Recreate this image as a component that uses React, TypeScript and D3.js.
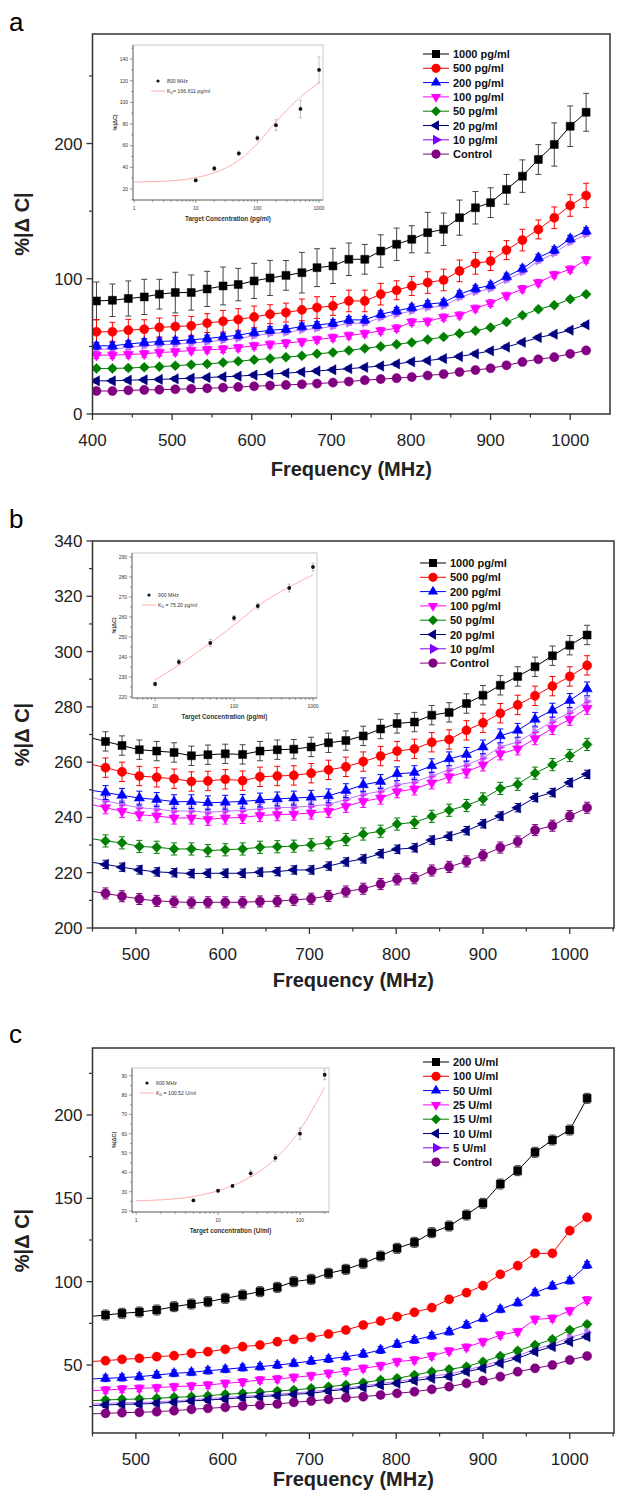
import React from "react";
import * as d3 from "d3";

const FONT = "'Liberation Sans', Arial, Helvetica, sans-serif";

// frequencies (MHz)
const freqA = [405, 425, 445, 465, 484, 504, 524, 544, 564, 583, 603, 623, 643, 663, 682, 702, 722, 742, 762, 782, 801, 821, 841, 861, 881, 900, 920, 940, 960, 980, 1000, 1020];
const freqBC = [445, 465, 484, 504, 524, 544, 564, 583, 603, 623, 643, 663, 682, 702, 722, 742, 762, 782, 801, 821, 841, 861, 881, 900, 920, 940, 960, 980, 1000, 1020];

const colors = ["#000000", "#ff0000", "#0000ff", "#ff00ff", "#008000", "#000080", "#8000ff", "#800080"];
const shapes = ["square", "circle", "up", "down", "diamond", "left", "right", "circle"];
const labelsPg = ["1000 pg/ml", "500 pg/ml", "200 pg/ml", "100 pg/ml", "50 pg/ml", "20 pg/ml", "10 pg/ml", "Control"];
const labelsU = ["200 U/ml", "100 U/ml", "50 U/ml", "25 U/ml", "15 U/ml", "10 U/ml", "5 U/ml", "Control"];

// panel a  (%|ΔC|)
const a1000 = [83.6, 84.1, 85.4, 86.6, 88.6, 89.8, 89.8, 92.5, 94.7, 95.7, 98.4, 100.6, 102.5, 104.5, 108.2, 109.5, 114.4, 114.4, 120.5, 125.5, 129.2, 134.1, 136.6, 145.2, 152.5, 156.3, 166.1, 175.9, 188.2, 199.3, 212.8, 223.1];
const a500 = [60.8, 60.8, 62.0, 62.7, 64.0, 64.7, 65.2, 67.2, 68.6, 69.9, 71.8, 73.8, 75.0, 77.0, 78.7, 79.9, 83.6, 83.6, 88.6, 91.5, 94.7, 97.2, 99.1, 105.8, 111.4, 113.1, 121.2, 128.6, 136.5, 145.1, 154.2, 161.6];
const a200 = [50.4, 50.4, 51.7, 52.9, 53.6, 54.1, 54.9, 55.8, 57.1, 58.3, 60.3, 62.0, 62.7, 64.7, 65.7, 67.2, 69.6, 69.6, 73.8, 76.3, 78.7, 81.2, 82.4, 88.6, 92.7, 95.2, 101.6, 107.5, 115.6, 121.2, 129.6, 135.3];
const a100 = [43.5, 43.5, 44, 44.5, 45.5, 46, 47, 47.5, 48, 49, 50.5, 51.5, 52.5, 53.5, 55, 56.5, 58, 59.5, 61.5, 63.5, 68, 68.5, 71.5, 73, 78, 82, 87.5, 92.5, 97, 103, 107, 114];
const a50 = [33.7, 33.7, 34, 34.5, 35, 35.7, 36.5, 37, 38, 39, 40.1, 41, 42, 43, 44.5, 45.5, 47, 48.5, 50, 51.5, 52.9, 55, 57, 59.5, 61.5, 64, 68, 73, 77.5, 80.5, 84.9, 88.6];
const a20 = [24.5, 24.5, 25, 25.3, 25.6, 26, 26.5, 27, 27.5, 28, 28.8, 29.5, 30.2, 31, 31.8, 32.7, 33.5, 34.5, 35.5, 37, 38.6, 39.5, 41, 42.5, 44.5, 46.7, 49.5, 53, 56.5, 59, 62, 66];
const a10 = [48, 48, 49.2, 50.4, 51.1, 51.6, 52.4, 53.3, 54.6, 55.8, 57.8, 59.5, 60.2, 62.2, 63.2, 64.7, 67.1, 67.1, 71.3, 73.8, 76.2, 78.7, 79.9, 86.1, 90.2, 92.7, 99.1, 105, 113.1, 118.7, 127.1, 132.8];
const aCtrl = [17, 17, 17.5, 17.8, 18, 18.3, 18.7, 19, 19.5, 20, 20.5, 21, 21.5, 22, 22.5, 23.2, 24, 25, 25.8, 26.5, 27.3, 28.5, 29.5, 31, 32.5, 33.8, 36, 38.5, 40.5, 42, 44.5, 47];
const a1000Err = [14, 12, 13, 13, 11, 15, 13, 13, 14, 12, 13, 13, 11, 15, 14, 13, 12, 11, 12, 12, 10, 15, 12, 13, 12, 11, 11, 12, 11, 16, 15, 14];
const a500Err = [9, 7, 8, 7, 7, 8, 7, 7, 8, 8, 8, 7, 7, 8, 8, 7, 8, 8, 8, 7, 7, 8, 8, 8, 8, 7, 7, 8, 7, 8, 8, 9];
const aErr = [a1000Err, a500Err, 2.5, 2.5, 1.5, 1.5, 1.5, 1.5];

// panel b
const b1000 = [269, 267.5, 266, 264.5, 264, 263.5, 262.3, 262.7, 263, 262.8, 264, 264.5, 264.7, 265.5, 267, 267.8, 269.5, 272, 274, 274.5, 277, 278, 281.2, 284.2, 287.8, 291, 294.5, 298.5, 302.3, 306];
const b500 = [259.5, 258, 256.5, 255, 254.5, 254, 253, 253.2, 253.8, 253.3, 254.7, 255, 255.2, 256, 257.2, 258.3, 260.2, 262.2, 264, 264.8, 267.2, 268.2, 271.5, 274.2, 277.7, 280.7, 284, 287.5, 291, 295];
const b200 = [250, 249, 248, 247, 246.5, 245.7, 245.7, 245.3, 245.5, 245.8, 246.3, 246.7, 247, 247.3, 247.8, 249.7, 251.8, 253, 255.8, 256.2, 258.7, 261.2, 262.8, 265.5, 269.5, 271.5, 275.5, 278.8, 282.3, 286.5];
const b100 = [245, 243.5, 242.2, 241, 240.5, 239.8, 239.8, 239.3, 239.8, 240, 240.7, 241, 241.2, 241.6, 242.2, 244, 245.8, 247, 249.3, 250.3, 252.5, 254.7, 256.5, 259, 263, 264.8, 268.5, 272.2, 275.5, 279.5];
const b50 = [232.5, 231.5, 230.8, 229.5, 229.2, 228.6, 228.6, 228, 228.3, 228.6, 229.2, 229.4, 229.6, 230.1, 230.8, 232, 234, 235, 237.6, 238.2, 240.4, 242.6, 244.3, 246.7, 250.5, 252, 256, 259.1, 262.4, 266.4];
const b20 = [224, 223, 222, 221, 220.3, 220, 219.7, 219.8, 219.8, 219.8, 220.2, 220.4, 221, 221, 222.4, 223.9, 225, 226.9, 228.5, 229, 231.8, 233.2, 235.2, 237.7, 240.5, 243.5, 247.2, 249, 252.6, 255.6];
const b10 = [247.5, 246, 244.7, 243.5, 243, 242.3, 242.3, 241.8, 242.3, 242.5, 243.2, 243.5, 243.7, 244.1, 244.7, 246.5, 248.3, 249.5, 251.8, 252.8, 255, 257.2, 259, 261.5, 265.5, 267.3, 271, 274.7, 278, 282];
const bCtrl = [213.5, 212.5, 211.5, 210.5, 209.8, 209.5, 209.2, 209.3, 209.3, 209.3, 209.6, 209.7, 210.2, 210.6, 211.6, 213.2, 214.2, 215.9, 217.6, 218, 220.8, 222.1, 224.1, 226.3, 229.1, 231.3, 235.4, 237, 240.5, 243.5];
const bErr = [3.5, 3.5, 2.5, 2.2, 2.2, 1.5, 1.5, 2];

// panel c
const c200 = [79, 80, 81, 81.8, 83, 85, 86.6, 88, 90, 92, 94, 96.6, 100, 101.4, 105, 107.4, 111, 115.4, 120, 123.6, 129.4, 133.4, 140, 147, 158.6, 166.6, 177.6, 185, 191, 210];
const c100 = [52, 52.6, 53.4, 54, 55, 55.6, 57, 58, 59.4, 61, 62, 64, 65.4, 66.6, 68.6, 71, 74, 76.4, 79, 81.6, 84.4, 89.4, 93.4, 97.6, 104.4, 109.6, 117, 117, 130.6, 138.6];
const c50 = [41.5, 42, 42.4, 43, 44, 45, 45.6, 46.6, 47.4, 48.4, 49, 50, 51, 52.4, 53.6, 55, 56.6, 59, 62.5, 65, 67.5, 70, 74, 78, 83.4, 87.4, 93.4, 97.4, 100.6, 110];
const c25 = [34.5, 35, 35.6, 36, 36.4, 37, 37.4, 38, 39, 39.8, 41, 41.6, 42.6, 43.6, 45, 46.4, 48, 49.6, 52, 53, 55.4, 58.4, 60.6, 64, 68, 70, 77.4, 78, 82.6, 89];
const c15 = [28.5, 29, 29.4, 29.6, 30, 30.6, 31, 31.6, 32.4, 33, 33.6, 34.4, 35, 36, 37, 38, 39.4, 41, 42, 44, 46, 47.4, 49, 52, 55.4, 58.6, 62, 65.4, 71, 74.4];
const c10 = [25.6, 26, 26.4, 26.6, 27, 27.6, 28.4, 29, 29.6, 30.4, 31, 31.6, 32.4, 33, 34.4, 35.4, 36.6, 38, 39, 40.6, 42, 43, 46, 48, 51, 54, 58, 61, 64, 67];
const c5 = [26.5, 27, 27.3, 27.5, 27.9, 28.5, 29.2, 29.8, 30.5, 31.2, 31.8, 32.5, 33.2, 34, 35.2, 36.2, 37.5, 39, 40, 41.8, 43.5, 44.5, 47, 49.5, 52.5, 55.5, 59.5, 62.5, 66.5, 69.5];
const cCtrl = [20.6, 21, 21.4, 21.6, 22, 22.6, 23.4, 24, 24.6, 25.4, 26, 26.6, 27.6, 28.4, 29.4, 30.4, 31, 32, 33, 34, 35.4, 37, 39, 40.6, 43, 46, 48, 50, 53, 55.4];
const cErr = [3, 1.5, 2, 2, 1.5, 1.5, 1.5, 1.5];

// insets: binding curves
const insetAConc = [10, 20, 50, 100, 200, 500, 1000];
const insetAVal = [28, 39, 53, 67, 79, 94, 130];
const insetAErr = [1.5, 2, 2, 2, 5, 8, 12];
const insetAFit = [[1, 26.5], [2, 26.8], [5, 28], [10, 30.5], [20, 35], [50, 46.5], [100, 62], [200, 82], [500, 105], [1000, 118]];

const insetBConc = [10, 20, 50, 100, 200, 500, 1000];
const insetBVal = [226.5, 237.5, 247, 259.5, 265.5, 274.5, 285];
const insetBErr = [1, 1.3, 1.8, 1.3, 1.5, 2, 2];
const insetBFit = [[10, 228.5], [20, 236], [50, 247], [100, 256], [200, 265.5], [500, 275], [1000, 281]];

const insetCConc = [5, 10, 15, 25, 50, 100, 200];
const insetCVal = [25.5, 30.5, 33, 39.5, 47.5, 60, 90.5];
const insetCErr = [0.6, 0.6, 0.6, 1.6, 1.8, 3, 2.5];
const insetCFit = [[1, 25.3], [2, 25.8], [5, 27.5], [10, 30.5], [20, 35.5], [50, 47], [100, 62], [200, 84]];

function markerPath(shape: string, scale = 1) {
  if (shape === "square") return { d: d3.symbol(d3.symbolSquare, 64 * scale)()!, rot: 0 };
  if (shape === "circle") return { d: d3.symbol(d3.symbolCircle, 66 * scale)()!, rot: 0 };
  if (shape === "diamond") return { d: d3.symbol(d3.symbolSquare, 50 * scale)()!, rot: 45 };
  const tri = d3.symbol(d3.symbolTriangle, 46 * scale)()!;
  const rot = shape === "up" ? 0 : shape === "down" ? 180 : shape === "left" ? -90 : 90;
  return { d: tri, rot };
}

// the 7th series sits underneath the others, as in the original figure
const drawOrder = [6, 0, 1, 2, 3, 4, 5, 7];

function MainPanel(p: any) {
  const x = d3.scaleLinear().domain(p.xDomain).range([p.left, p.right]);
  const y = d3.scaleLinear().domain(p.yDomain).range([p.bottom, p.top]);
  const clipId = "clip-" + p.letter;
  const line = d3.line<number>().x((_, i) => x(p.freqs[i])).y((d) => y(d));
  const xMajor = d3.range(p.xTickStart, p.xDomain[1], 100);
  const xMinor = d3.range(p.xTickStart - 50, p.xDomain[1], 100).filter((v) => v >= p.xDomain[0]);
  const cap = 3;
  return (
    <g>
      <defs>
        <clipPath id={clipId}>
          <rect x={p.left} y={p.top} width={p.right - p.left} height={p.bottom - p.top} />
        </clipPath>
      </defs>
      <text x={9} y={p.letterY} fontSize={26} fontFamily={FONT}>{p.letter}</text>
      <g clipPath={`url(#${clipId})`}>
        {drawOrder.map((si) => {
          const vals: number[] = p.series[si];
          const err = p.errs[si];
          const col = colors[si];
          const hidden = si === 6;
          const m = markerPath(shapes[si], hidden ? 0.6 : 1);
          return (
            <g key={si} opacity={hidden ? 0.55 : 1}>
              <path d={line(vals)!} fill="none" stroke={col} strokeWidth={1} />
              {vals.map((v, i) => {
                const e = Array.isArray(err) ? err[i] : err;
                const cx = x(p.freqs[i]);
                const ecol = si === 0 ? "#444" : col;
                return (
                  <g key={i} stroke={ecol} strokeWidth={1}>
                    <line x1={cx} x2={cx} y1={y(v - e)} y2={y(v + e)} />
                    <line x1={cx - cap} x2={cx + cap} y1={y(v - e)} y2={y(v - e)} />
                    <line x1={cx - cap} x2={cx + cap} y1={y(v + e)} y2={y(v + e)} />
                  </g>
                );
              })}
              {vals.map((v, i) => (
                <path key={"m" + i} d={m.d} fill={col} stroke={col} strokeWidth={0.5}
                  transform={`translate(${x(p.freqs[i])},${y(v)}) rotate(${m.rot})`} />
              ))}
            </g>
          );
        })}
      </g>
      <rect x={p.left} y={p.top} width={p.right - p.left} height={p.bottom - p.top} fill="none" stroke="#333" strokeWidth={1.5} />
      {xMajor.map((v) => (
        <g key={"xt" + v}>
          <line x1={x(v)} x2={x(v)} y1={p.bottom} y2={p.bottom + 6} stroke="#333" strokeWidth={1.3} />
          <text x={x(v)} y={p.bottom + 32} textAnchor="middle" fontSize={17} fontFamily={FONT} fill="#222">{v}</text>
        </g>
      ))}
      {xMinor.map((v) => (
        <line key={"xm" + v} x1={x(v)} x2={x(v)} y1={p.bottom} y2={p.bottom + 3.5} stroke="#333" strokeWidth={1.2} />
      ))}
      {p.yTicks.map((v: number) => (
        <g key={"yt" + v}>
          <line x1={p.left - 6} x2={p.left} y1={y(v)} y2={y(v)} stroke="#333" strokeWidth={1.3} />
          <text x={p.left - 10} y={y(v) + 6} textAnchor="end" fontSize={17} fontFamily={FONT} fill="#222">{v}</text>
        </g>
      ))}
      {p.yMinor.map((v: number) => (
        <line key={"ym" + v} x1={p.left - 3.5} x2={p.left} y1={y(v)} y2={y(v)} stroke="#333" strokeWidth={1.2} />
      ))}
      <text x={(p.left + p.right) / 2} y={p.bottom + p.titleOffset} textAnchor="middle" fontSize={20} fontWeight="bold" fontFamily={FONT} fill="#222">Frequency (MHz)</text>
      <text transform={`translate(29,${(p.top + p.bottom) / 2}) rotate(-90)`} textAnchor="middle" fontSize={20} fontWeight="bold" fontFamily={FONT} fill="#222">%|Δ C|</text>
      {p.labels.map((lab: string, i: number) => {
        const ly = p.legendY + i * 14.3;
        const m = markerPath(shapes[i]);
        return (
          <g key={"lg" + i}>
            <line x1={p.legendX} x2={p.legendX + 26} y1={ly} y2={ly} stroke={colors[i]} strokeWidth={1} />
            <path d={m.d} fill={colors[i]} transform={`translate(${p.legendX + 13},${ly}) rotate(${m.rot})`} />
            <text x={p.legendX + 30} y={ly + 4} fontSize={11} fontWeight="bold" fontFamily={FONT} fill="#111">{lab}</text>
          </g>
        );
      })}
    </g>
  );
}

function Inset(p: any) {
  const x = d3.scaleLog().domain(p.xDomain).range([p.left, p.right]);
  const y = d3.scaleLinear().domain(p.yDomain).range([p.bottom, p.top]);
  const logTicks = x.ticks().filter((v) => v >= p.xDomain[0] && v <= p.xDomain[1]);
  const fit = d3.line<number[]>().x((d) => x(d[0])).y((d) => y(d[1])).curve(d3.curveMonotoneX);
  return (
    <g fontFamily={FONT}>
      <rect x={p.left} y={p.top} width={p.right - p.left} height={p.bottom - p.top} fill="#fff" stroke="#bbb" strokeWidth={0.8} />
      <line x1={p.left} x2={p.left} y1={p.top} y2={p.bottom} stroke="#555" strokeWidth={0.8} />
      <line x1={p.left} x2={p.right} y1={p.bottom} y2={p.bottom} stroke="#555" strokeWidth={0.8} />
      {logTicks.map((v: number) => {
        const major = Math.abs(Math.log10(v) - Math.round(Math.log10(v))) < 1e-9;
        return (
          <g key={"x" + v}>
            <line x1={x(v)} x2={x(v)} y1={p.bottom} y2={p.bottom + (major ? 3 : 1.8)} stroke="#555" strokeWidth={0.6} />
            {major && <text x={x(v)} y={p.bottom + 10} textAnchor="middle" fontSize={5} fill="#333">{v}</text>}
          </g>
        );
      })}
      {p.yTicks.map((v: number) => (
        <g key={"y" + v}>
          <line x1={p.left - 3} x2={p.left} y1={y(v)} y2={y(v)} stroke="#555" strokeWidth={0.6} />
          <text x={p.left - 5} y={y(v) + 1.8} textAnchor="end" fontSize={5} fill="#333">{v}</text>
        </g>
      ))}
      {p.yMinor.map((v: number) => (
        <line key={"ym" + v} x1={p.left - 1.8} x2={p.left} y1={y(v)} y2={y(v)} stroke="#555" strokeWidth={0.6} />
      ))}
      <path d={fit(p.fit)!} fill="none" stroke="#ff9a9a" strokeWidth={0.8} />
      {p.conc.map((c: number, i: number) => (
        <g key={"p" + i}>
          <line x1={x(c)} x2={x(c)} y1={y(p.val[i] - p.err[i])} y2={y(p.val[i] + p.err[i])} stroke="#999" strokeWidth={0.6} />
          <line x1={x(c) - 1.5} x2={x(c) + 1.5} y1={y(p.val[i] - p.err[i])} y2={y(p.val[i] - p.err[i])} stroke="#999" strokeWidth={0.6} />
          <line x1={x(c) - 1.5} x2={x(c) + 1.5} y1={y(p.val[i] + p.err[i])} y2={y(p.val[i] + p.err[i])} stroke="#999" strokeWidth={0.6} />
          <circle cx={x(c)} cy={y(p.val[i])} r={1.9} fill="#111" />
        </g>
      ))}
      <circle cx={p.legX + 7} cy={p.legY} r={1.6} fill="#111" />
      <text x={p.legX + 16} y={p.legY + 1.8} fontSize={5.2} fill="#333">{p.freqLabel}</text>
      <line x1={p.legX} x2={p.legX + 14} y1={p.legY + 10} y2={p.legY + 10} stroke="#ff9a9a" strokeWidth={0.8} />
      <text x={p.legX + 16} y={p.legY + 11.8} fontSize={5.2} fill="#333">
        K<tspan fontSize={3.6} dy={1.2}>D</tspan><tspan dy={-1.2}>{p.kdLabel}</tspan>
      </text>
      <text transform={`translate(${p.left - 16},${(p.top + p.bottom) / 2}) rotate(-90)`} textAnchor="middle" fontSize={5.5} fontWeight="bold" fill="#333">%|ΔC|</text>
      <text x={(p.left + p.right) / 2} y={p.bottom + 21} textAnchor="middle" fontSize={6.3} fontWeight="bold" fill="#333">{p.xTitle}</text>
    </g>
  );
}

export default function App() {
  return (
    <div style={{ position: "absolute", left: 0, top: 0 }}>
      <svg width={617} height={1498} style={{ display: "block", background: "#fff" }}>
        <MainPanel letter="a" letterY={31} left={92.5} right={610} top={34} bottom={414} titleOffset={62}
          xDomain={[400, 1050]} xTickStart={400} yDomain={[0, 281]}
          yTicks={[0, 100, 200]} yMinor={[50, 150, 250]}
          freqs={freqA} series={[a1000, a500, a200, a100, a50, a20, a10, aCtrl]} errs={aErr}
          labels={labelsPg} legendX={423} legendY={54} />
        <Inset left={133} right={323} top={45} bottom={200} xDomain={[0.96, 1160]} yDomain={[9.85, 153]}
          yTicks={[20, 40, 60, 80, 100, 120, 140]} yMinor={[10, 30, 50, 70, 90, 110, 130, 150]}
          conc={insetAConc} val={insetAVal} err={insetAErr} fit={insetAFit}
          legX={151} legY={81} freqLabel="800 MHz" kdLabel="= 166.611 pg/ml" xTitle="Target Concentration (pg/ml)" />

        <MainPanel letter="b" letterY={528} left={92.5} right={614} top={541} bottom={928} titleOffset={59}
          xDomain={[450, 1051]} xTickStart={500} yDomain={[200, 340]}
          yTicks={[200, 220, 240, 260, 280, 300, 320, 340]} yMinor={[210, 230, 250, 270, 290, 310, 330]}
          freqs={freqBC} series={[b1000, b500, b200, b100, b50, b20, b10, bCtrl]} errs={bErr}
          labels={labelsPg} legendX={420} legendY={563} />
        <Inset left={132} right={317} top={553} bottom={698} xDomain={[5.1, 1124]} yDomain={[219.5, 292]}
          yTicks={[220, 230, 240, 250, 260, 270, 280, 290]} yMinor={[225, 235, 245, 255, 265, 275, 285]}
          conc={insetBConc} val={insetBVal} err={insetBErr} fit={insetBFit}
          legX={142} legY={595} freqLabel="900 MHz" kdLabel=" = 75.20 pg/ml" xTitle="Target Concentration (pg/ml)" />

        <MainPanel letter="c" letterY={1043} left={92.5} right={614} top={1048} bottom={1433} titleOffset={53}
          xDomain={[450, 1051]} xTickStart={500} yDomain={[9.2, 240.2]}
          yTicks={[50, 100, 150, 200]} yMinor={[25, 75, 125, 175, 225]}
          freqs={freqBC} series={[c200, c100, c50, c25, c15, c10, c5, cCtrl]} errs={cErr}
          labels={labelsU} legendX={423} legendY={1062} />
        <Inset left={132} right={329} top={1068} bottom={1212} xDomain={[0.89, 226]} yDomain={[19.5, 94]}
          yTicks={[20, 30, 40, 50, 60, 70, 80, 90]} yMinor={[25, 35, 45, 55, 65, 75, 85]}
          conc={insetCConc} val={insetCVal} err={insetCErr} fit={insetCFit}
          legX={140} legY={1083} freqLabel="600 MHz" kdLabel=" = 100.52 U/ml" xTitle="Target concentration (U/ml)" />
      </svg>
    </div>
  );
}
